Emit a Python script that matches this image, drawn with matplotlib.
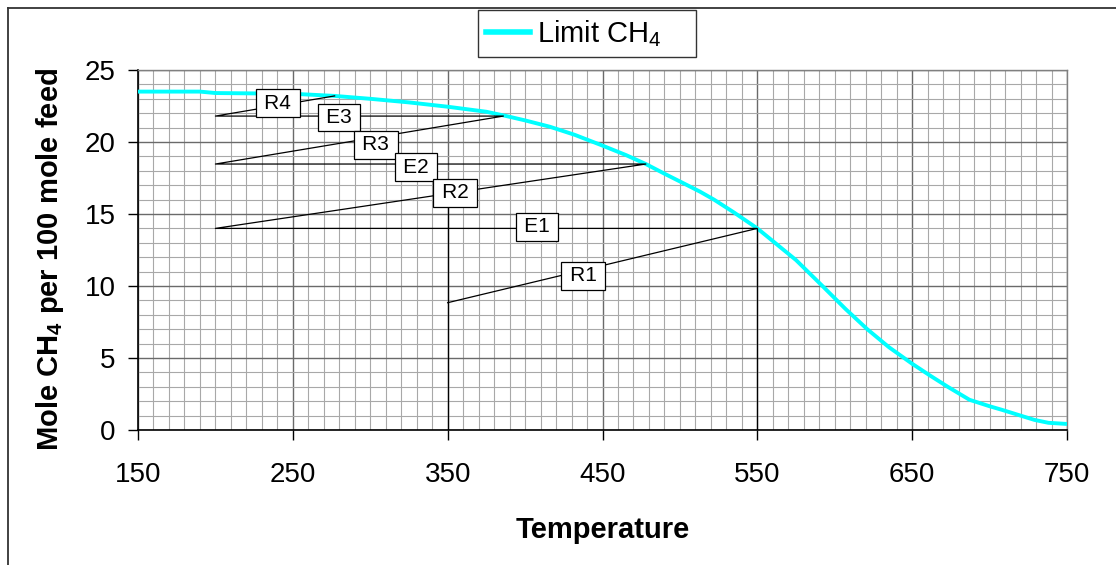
import numpy as np
import matplotlib
matplotlib.use('Agg')
import matplotlib.pyplot as plt
from matplotlib.lines import Line2D
from matplotlib.ticker import MultipleLocator

plt.rcParams['font.family'] = ['Liberation Sans', 'DejaVu Sans']
plt.rcParams['mathtext.fontset'] = 'custom'
plt.rcParams['mathtext.rm'] = 'Liberation Sans'
plt.rcParams['mathtext.bf'] = 'Liberation Sans:bold'

# equilibrium curve (Limit CH4)
temp = [150, 190, 200, 250, 277, 300, 325, 350, 375, 388, 400, 416, 432, 450,
        465, 478, 490, 502, 513, 522, 535, 550, 575, 593, 607, 621, 635, 650,
        662, 673, 687, 700, 708, 720, 729, 738, 750]
limit_ch4 = [23.5, 23.5, 23.4, 23.35, 23.2, 23.0, 22.75, 22.45, 22.1, 21.8,
             21.5, 21.06, 20.5, 19.75, 19.1, 18.47, 17.8, 17.15, 16.55, 16.0,
             15.1, 14.0, 11.8, 9.9, 8.4, 7.0, 5.75, 4.6, 3.75, 3.0, 2.1, 1.65,
             1.4, 1.0, 0.7, 0.5, 0.42]

# staircase R1 -> E1 -> R2 -> E2 -> R3 -> E3 -> R4
step_t = [350, 550, 200, 478, 200, 386, 200, 277]
step_y = [8.84, 14.0, 14.0, 18.47, 18.47, 21.8, 21.8, 23.2]

# vertical lines down to the axis
vert_t = [350, 550]
vert_top = [16.4, 14.0]

# stage labels
lab_text = ['R4', 'E3', 'R3', 'E2', 'R2', 'E1', 'R1']
lab_t = [240.4, 279.8, 303.7, 329.6, 354.8, 407.8, 437.5]
lab_y = [22.7, 21.7, 19.8, 18.26, 16.46, 14.1, 10.7]

x_ticks = [150, 250, 350, 450, 550, 650, 750]

W, H = 1116, 565
fig = plt.figure(figsize=(W / 100, H / 100), dpi=100)
ax = fig.add_axes([138 / W, 1 - 430 / H, (1067 - 138) / W, (430 - 70) / H])

# outer chart border (left and top visible, rest runs off the image)
fig.add_artist(Line2D([7.5 / W, 7.5 / W], [-0.1, 1 - 8 / H], color='#333333',
                      lw=1.3, transform=fig.transFigure))
fig.add_artist(Line2D([7.5 / W, 1.1], [1 - 8 / H, 1 - 8 / H], color='#333333',
                      lw=1.3, transform=fig.transFigure))

ax.set_xlim(150, 750)
ax.set_ylim(0, 25)
ax.set_xticks(x_ticks)
ax.xaxis.set_minor_locator(MultipleLocator(10))
ax.yaxis.set_major_locator(MultipleLocator(5))
ax.yaxis.set_minor_locator(MultipleLocator(1))
ax.grid(which='minor', color='#a8a8a8', lw=0.8)
ax.grid(which='major', color='#6a6a6a', lw=1.0)
ax.set_axisbelow(True)

for s in ['top', 'right']:
    ax.spines[s].set_color('#808080')
    ax.spines[s].set_linewidth(1.0)
for s in ['left', 'bottom']:
    ax.spines[s].set_color('black')
    ax.spines[s].set_linewidth(1.2)

ax.tick_params(which='major', direction='out', length=7, width=1.0,
               labelsize=20, color='black')
ax.tick_params(which='minor', length=0)
ax.tick_params(axis='x', pad=16)
ax.tick_params(axis='y', pad=9)

ax.plot(temp, limit_ch4, color='#00ffff', lw=2.8, label='Limit CH$_4$    ',
        zorder=3, solid_joinstyle='round')
ax.plot(step_t, step_y, color='black', lw=0.9, zorder=4)
ax.vlines(vert_t, 0, vert_top, color='black', lw=0.9, zorder=4)

for txt, t, y in zip(lab_text, lab_t, lab_y):
    ax.text(t, y, '\u2009' + txt + '\u2009', fontsize=15, ha='center',
            va='center', zorder=6,
            bbox=dict(boxstyle='square,pad=0.2', fc='white', ec='black',
                      lw=0.9))

ax.set_xlabel('Temperature', fontsize=21, fontweight='bold', labelpad=20)
fig.text(50 / W, 1 - 259 / H, r'Mole CH$_\mathbf{4}$ per 100 mole feed',
         rotation=90, ha='center', va='center', fontsize=21,
         fontweight='bold')

leg = fig.legend(loc='upper left', bbox_to_anchor=(478 / W, 1 - 10 / H),
                 fontsize=21, frameon=True, fancybox=False,
                 handlelength=1.5, handletextpad=0.25, borderpad=0.28,
                 borderaxespad=0)
leg.get_frame().set_edgecolor('black')
leg.get_frame().set_linewidth(1.0)
leg.get_lines()[0].set_linewidth(4)

fig.savefig('out.png', dpi=100)
